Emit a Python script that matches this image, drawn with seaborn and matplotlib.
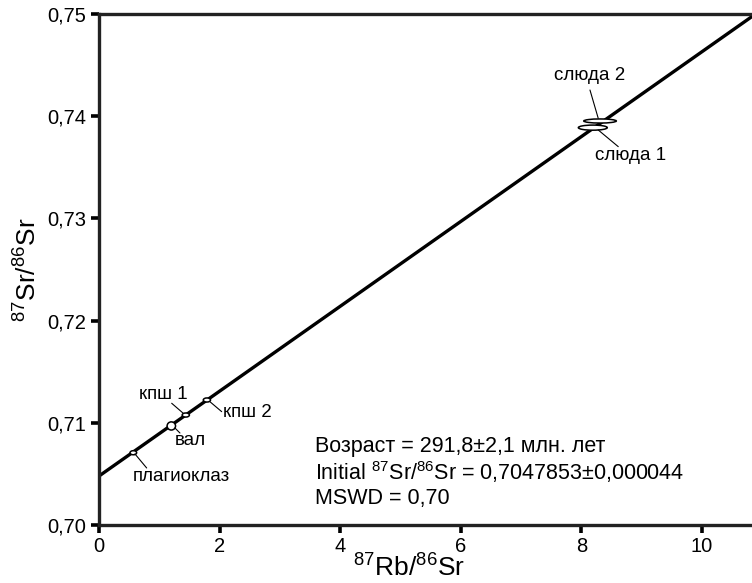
import numpy as np
import pandas as pd
import matplotlib
matplotlib.use("Agg")
import matplotlib.pyplot as plt
from matplotlib.patches import Ellipse
from matplotlib.ticker import FuncFormatter
import seaborn as sns

# --- Data ---
names = ["плагиоклаз", "вал", "кпш 1", "кпш 2", "слюда 1", "слюда 2"]
rb_sr = [0.57, 1.20, 1.44, 1.79, 8.19, 8.31]
sr_sr = [0.70707, 0.70969, 0.71076, 0.71223, 0.73888, 0.73953]
err_x = [0.11, 0.14, 0.12, 0.12, 0.48, 0.54]
err_y = [0.0004, 0.0008, 0.0004, 0.0004, 0.0005, 0.0004]

age_ma = 291.8
initial_ratio = 0.7047853
decay_const = 1.42e-11

x_ticks = [0, 2, 4, 6, 8, 10]
y_ticks = [0.70, 0.71, 0.72, 0.73, 0.74, 0.75]

# label text position and leader line (start, end) in data units
label_pos = {
    "плагиоклаз": ((1.37, 0.70473), (0.597, 0.70695), (0.791, 0.70558), "center"),
    "вал": ((1.51, 0.70822), (1.260, 0.70949), (1.343, 0.70900), "center"),
    "кпш 1": ((1.06, 0.71272), (1.206, 0.71191), (1.398, 0.71093), "center"),
    "кпш 2": ((2.06, 0.71096), (1.841, 0.71206), (2.035, 0.71109), "left"),
    "слюда 1": ((8.81, 0.73611), (8.280, 0.73865), (8.612, 0.73702), "center"),
    "слюда 2": ((8.14, 0.74403), (8.143, 0.74256), (8.280, 0.73979), "center"),
}

df = pd.DataFrame({"name": names, "x": rb_sr, "y": sr_sr, "ex": err_x, "ey": err_y})

sns.set_theme(style="ticks")
plt.rcParams["font.family"] = ["Liberation Sans", "DejaVu Sans"]
plt.rcParams["mathtext.fontset"] = "custom"
plt.rcParams["mathtext.rm"] = "Liberation Sans"
plt.rcParams["mathtext.it"] = "Liberation Sans"

fig = plt.figure(figsize=(7.52, 5.83), dpi=100)
ax = fig.add_axes([0.1316, 0.0995, 0.8684, 0.8765])

xmin, xmax = 0, 10.83
ymin, ymax = 0.70, 0.75

# --- Isochron ---
slope = np.exp(decay_const * age_ma * 1e6) - 1
line = pd.DataFrame({"x": [xmin, xmax]})
line["y"] = initial_ratio + slope * line["x"]
sns.lineplot(data=line, x="x", y="y", ax=ax, color="black", linewidth=2.4, zorder=2)

# --- Error ellipses ---
for _, r in df.iterrows():
    ax.add_patch(Ellipse((r["x"], r["y"]), r["ex"], r["ey"], facecolor="white",
                         edgecolor="black", linewidth=1.1, zorder=3))
    (tx, ty), (lx0, ly0), (lx1, ly1), ha = label_pos[r["name"]]
    ax.plot([lx0, lx1], [ly0, ly1], color="black", linewidth=0.8, zorder=3)
    ax.text(tx, ty, r["name"], ha=ha, va="center", fontsize=13.5, color="black")

ax.set_xlim(xmin, xmax)
ax.set_ylim(ymin, ymax)
ax.set_xticks(x_ticks)
ax.set_yticks(y_ticks)
ax.xaxis.set_major_formatter(FuncFormatter(lambda v, p: f"{v:g}"))
ax.yaxis.set_major_formatter(FuncFormatter(lambda v, p: f"{v:.2f}".replace(".", ",")))
ax.tick_params(axis="both", direction="out", length=6, width=2.6, labelsize=14.5,
               color="black", labelcolor="black", pad=3)

for side in ["left", "bottom", "top"]:
    ax.spines[side].set_linewidth(2.4)
    ax.spines[side].set_color("#222222")
ax.spines["right"].set_visible(False)

ax.set_ylabel(r"$^{87}$Sr/$^{86}$Sr", fontsize=19, color="black", labelpad=4)
ax.set_xlabel(r"$^{87}$Rb/$^{86}$Sr", fontsize=19, color="black")
ax.xaxis.set_label_coords(0.475, -0.058)
ax.xaxis.label.set_va("top")

ax.text(0.331, 0.153, "Возраст = 291,8±2,1 млн. лет", transform=ax.transAxes,
        fontsize=15.5, va="center", ha="left", color="black")
ax.text(0.331, 0.104, r"Initial $^{87}$Sr/$^{86}$Sr = 0,7047853±0,000044", transform=ax.transAxes,
        fontsize=15.5, va="center", ha="left", color="black")
ax.text(0.331, 0.051, "MSWD = 0,70", transform=ax.transAxes,
        fontsize=15.5, va="center", ha="left", color="black")

fig.savefig("out.png", dpi=100)
plt.close(fig)
